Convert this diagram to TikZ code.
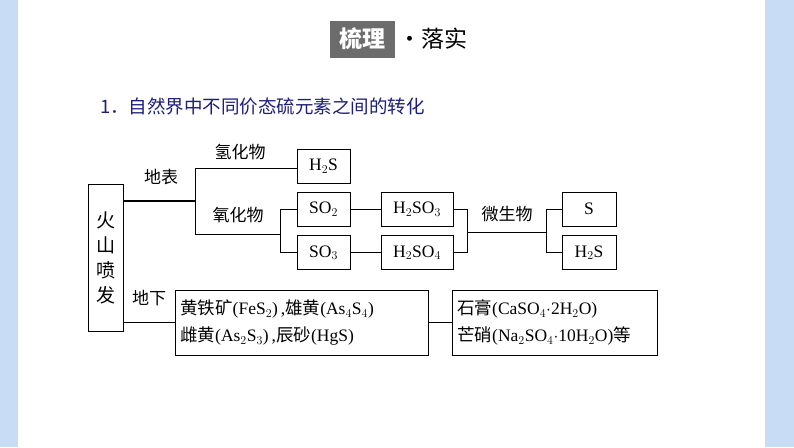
\documentclass[tikz,border=0pt]{standalone}
\usepackage{fontspec}
\setmainfont{Liberation Serif}
\newfontfamily\cjk{Noto Sans CJK SC}
\definecolor{bgblue}{RGB}{200,220,245}
\begin{document}
\begin{tikzpicture}[x=1pt,y=-1pt,
  bx/.style={draw,line width=0.8pt,inner sep=0pt},
  ln/.style={line width=0.8pt},
  lab/.style={font=\fontsize{17}{19}\selectfont\cjk,inner sep=0pt},
  tx/.style={font=\fontsize{17.5}{19}\selectfont,inner sep=0pt}]
\fill[bgblue] (0,0) rectangle (794,447);
\fill[white] (18,0) rectangle (765,447);
\useasboundingbox (0,0) rectangle (794,447);
% title
\node[fill=gray!85!black,minimum width=65pt,minimum height=37pt,inner sep=0pt,text=white,font=\fontsize{23}{24}\selectfont\cjk\bfseries] (t1) at (362,39) {梳理};
\node[anchor=west,font=\fontsize{23}{24}\selectfont\cjk,inner sep=0pt] (t2) at (398,39) {·落实};
\node[anchor=west,text={rgb,255:red,30;green,30;blue,120},font=\fontsize{18.5}{20}\selectfont\cjk,inner sep=0pt] (h) at (100,106) {1．自然界中不同价态硫元素之间的转化};
% boxes
\node[bx,minimum width=35pt,minimum height=147pt] (v) at (105.5,258) {};
\node[lab,align=center,font=\fontsize{19}{25}\selectfont\cjk] at (105.5,258) {火\\山\\喷\\发};
\node[bx,tx,minimum width=53pt,minimum height=34pt] (h2s) at (323.5,166) {H$_2$S};
\node[bx,tx,minimum width=53pt,minimum height=34pt] (so2) at (323.5,209) {SO$_2$};
\node[bx,tx,minimum width=53pt,minimum height=34pt] (so3) at (323.5,252.5) {SO$_3$};
\node[bx,tx,minimum width=72pt,minimum height=34pt] (h2so3) at (417,209) {H$_2$SO$_3$};
\node[bx,tx,minimum width=72pt,minimum height=34pt] (h2so4) at (417,252.5) {H$_2$SO$_4$};
\node[bx,tx,minimum width=54pt,minimum height=34pt] (s) at (589,209) {S};
\node[bx,tx,minimum width=54pt,minimum height=34pt] (h2sb) at (589,252.5) {H$_2$S};
\node[bx,minimum width=253pt,minimum height=65pt] (m1) at (301.5,322.5) {};
\node[tx,anchor=west,align=left,font=\fontsize{17.5}{27}\selectfont] at (180,322.5) {{\cjk 黄铁矿}(FeS$_2$)\,,{\cjk 雄黄}(As$_4$S$_4$)\\{\cjk 雌黄}(As$_2$S$_3$)\,,{\cjk 辰砂}(HgS)};
\node[bx,minimum width=205pt,minimum height=65pt] (m2) at (554.5,322.5) {};
\node[tx,anchor=west,align=left,font=\fontsize{17.5}{27}\selectfont] at (457,322.5) {{\cjk 石膏}(CaSO$_4$$\cdot$2H$_2$O)\\{\cjk 芒硝}(Na$_2$SO$_4$$\cdot$10H$_2$O){\cjk 等}};
% connectors
\coordinate (j1) at (195,201);
\draw[line width=1.1pt] (v.east |- j1) -- (j1);
\draw[ln] (195,168) -- (195,234);
\draw[ln] (195,168) -- (h2s.west |- 195,168);
\draw[ln] (195,234) -- (280,234);
\draw[ln] (280,209) -- (280,252.5);
\draw[ln] (280,209) -- (so2.west);
\draw[ln] (280,252.5) -- (so3.west);
\draw[ln] (so2) -- (h2so3);
\draw[ln] (so3) -- (h2so4);
\draw[ln] (h2so3.east) -- (467,209) -- (467,252.5) -- (h2so4.east);
\draw[ln] (467,232) -- (546,232);
\draw[ln] (s.west) -- (546,209) -- (546,252.5) -- (h2sb.west);
\draw[ln] (v.east |- m1) -- (m1.west);
\draw[ln] (m1) -- (m2);
% labels
\node[lab] at (161,177) {地表};
\node[lab] at (240,152) {氢化物};
\node[lab] at (238,215) {氧化物};
\node[lab] at (507,214) {微生物};
\node[lab] at (149,298) {地下};
\end{tikzpicture}
\end{document}
